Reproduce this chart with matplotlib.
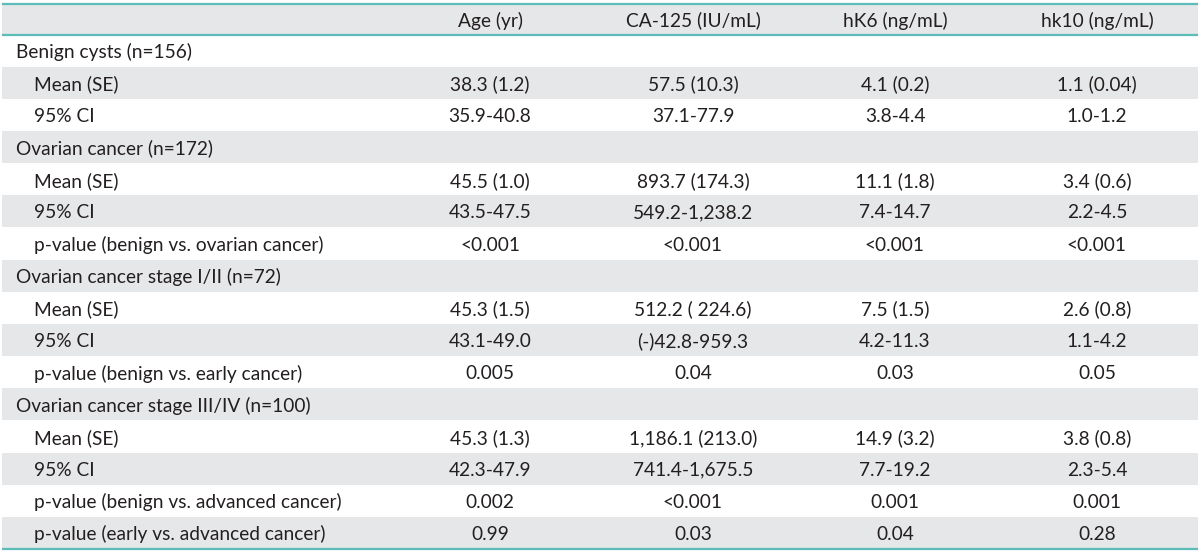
import matplotlib
matplotlib.use("Agg")
import matplotlib.pyplot as plt
from matplotlib.patches import Rectangle

plt.rcParams['font.family'] = ['Lato', 'DejaVu Sans']

columns = ["Age (yr)", "CA-125 (IU/mL)", "hK6 (ng/mL)", "hk10 (ng/mL)"]
row_labels = [
    "Benign cysts (n=156)", "Mean (SE)", "95% CI",
    "Ovarian cancer (n=172)", "Mean (SE)", "95% CI", "p-value (benign vs. ovarian cancer)",
    "Ovarian cancer stage I/II (n=72)", "Mean (SE)", "95% CI", "p-value (benign vs. early cancer)",
    "Ovarian cancer stage III/IV (n=100)", "Mean (SE)", "95% CI",
    "p-value (benign vs. advanced cancer)", "p-value (early vs. advanced cancer)",
]
is_group = [True, False, False, True, False, False, False, True, False, False, False,
            True, False, False, False, False]
age = ["", "38.3 (1.2)", "35.9-40.8", "", "45.5 (1.0)", "43.5-47.5", "<0.001",
       "", "45.3 (1.5)", "43.1-49.0", "0.005", "", "45.3 (1.3)", "42.3-47.9", "0.002", "0.99"]
ca125 = ["", "57.5 (10.3)", "37.1-77.9", "", "893.7 (174.3)", "549.2-1,238.2", "<0.001",
         "", "512.2 ( 224.6)", "(-)42.8-959.3", "0.04", "", "1,186.1 (213.0)", "741.4-1,675.5",
         "<0.001", "0.03"]
hk6 = ["", "4.1 (0.2)", "3.8-4.4", "", "11.1 (1.8)", "7.4-14.7", "<0.001",
       "", "7.5 (1.5)", "4.2-11.3", "0.03", "", "14.9 (3.2)", "7.7-19.2", "0.001", "0.04"]
hk10 = ["", "1.1 (0.04)", "1.0-1.2", "", "3.4 (0.6)", "2.2-4.5", "<0.001",
        "", "2.6 (0.8)", "1.1-4.2", "0.05", "", "3.8 (0.8)", "2.3-5.4", "0.001", "0.28"]

W, H = 1200, 553
fig = plt.figure(figsize=(W / 100, H / 100), dpi=100)
ax = fig.add_axes([0, 0, 1, 1])
ax.set_xlim(0, W)
ax.set_ylim(H, 0)
ax.axis('off')

grey = "#e6e7e8"
teal = "#5cbcb9"
txt = "#231f20"
fs = 13.8

x0, x1 = 2, 1198
top = 3.5
hdr_bot = 34.5
bot = 549
n = len(row_labels)
rh = (bot - hdr_bot) / n
col_x = [490, 693, 895, 1097]
va = 'center_baseline'

# header
ax.add_patch(Rectangle((x0, top), x1 - x0, hdr_bot - top, color=grey, lw=0))
for cx, c in zip(col_x, columns):
    ax.text(cx, (top + hdr_bot) / 2, c, ha='center', va=va, fontsize=fs, color=txt)

data_cols = [age, ca125, hk6, hk10]
for i in range(n):
    y = hdr_bot + i * rh
    if i % 2 == 1:
        ax.add_patch(Rectangle((x0, y), x1 - x0, rh, color=grey, lw=0))
    yc = y + rh / 2
    lx = 16 if is_group[i] else 34
    ax.text(lx, yc, row_labels[i], ha='left', va=va, fontsize=fs, color=txt)
    for cx, col in zip(col_x, data_cols):
        if col[i]:
            ax.text(cx, yc, col[i], ha='center', va=va, fontsize=fs, color=txt)

for yy in (top, hdr_bot, bot):
    ax.plot([x0, x1], [yy, yy], color=teal, lw=1.6, solid_capstyle='butt')

fig.savefig("out.png", dpi=100, facecolor='white')
